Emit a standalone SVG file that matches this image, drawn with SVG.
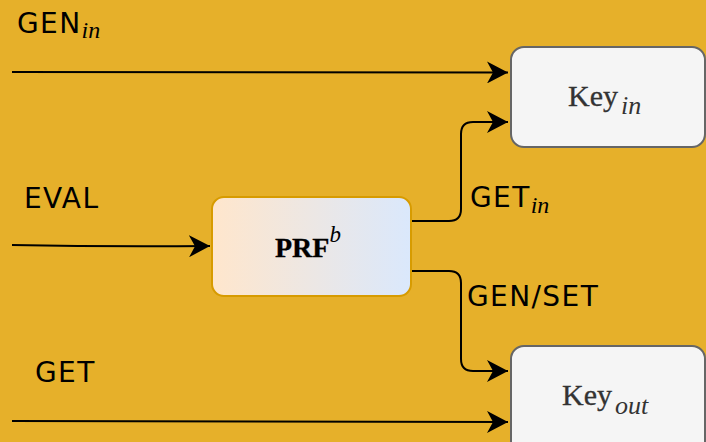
<svg xmlns="http://www.w3.org/2000/svg" width="706" height="442" viewBox="0 0 706 442">
<defs>
<linearGradient id="g" x1="0" y1="0" x2="1" y2="0"><stop offset="0" stop-color="#FFE6CC"/><stop offset="1" stop-color="#DAE8FC"/></linearGradient>
<marker id="a" markerWidth="22" markerHeight="22" viewBox="0 0 22 22" refX="21" refY="11" orient="auto" markerUnits="userSpaceOnUse"><path d="M0,0 L21,11 L0,22 L6,11 Z" fill="#000"/></marker>
</defs>
<style>
.lbl{font-family:"DejaVu Sans",sans-serif;font-size:28px;letter-spacing:1.4px;fill:#000}
.sub{font-family:"Liberation Serif",serif;font-style:italic;font-weight:normal;font-size:24px;letter-spacing:0;stroke:none}
.mono{font-family:"Liberation Serif",serif;font-size:30px;fill:#333;stroke:#333;stroke-width:0.3}
.c{fill:none;stroke:#000;stroke-width:2}
.key{fill:#F5F5F5;stroke:#666;stroke-width:2}
</style>
<rect width="706" height="442" fill="#E6B02A"/>
<g id="connectors">
<path class="c" d="M12,72 L508,72.5" marker-end="url(#a)"/>
<path class="c" d="M12,245 Q110,247 210,246" marker-end="url(#a)"/>
<path class="c" d="M12,421 L508,422" marker-end="url(#a)"/>
<path class="c" d="M411,221 L449,221 Q461,221 461,209 L461,134 Q461,122 473,122 L508,122" marker-end="url(#a)"/>
<path class="c" d="M411,271 L449,271 Q461,271 461,283 L461,359 Q461,371 473,371 L508,371" marker-end="url(#a)"/>
</g>
<g id="label-genin"><text class="lbl" x="17" y="33">GEN<tspan class="sub" dy="5">in</tspan></text></g>
<g id="label-eval"><text class="lbl" x="24" y="208">EVAL</text></g>
<g id="label-get"><text class="lbl" x="35" y="382">GET</text></g>
<g id="label-getin"><text class="lbl" x="470" y="207">GET<tspan class="sub" dy="6">in</tspan></text></g>
<g id="label-genset"><text class="lbl" x="467" y="306">GEN/SET</text></g>
<g id="node-prf">
<rect x="212" y="197" width="199" height="99" rx="12" fill="url(#g)" stroke="#D79B00" stroke-width="2"/>
<text class="mono" x="275" y="257" font-weight="bold" style="font-size:28px;fill:#000;stroke:#000;stroke-width:0.3">PRF<tspan class="sub" dy="-15" style="font-size:23px;fill:#000">b</tspan></text>
</g>
<g id="node-keyin">
<rect class="key" x="511" y="47" width="194" height="100" rx="13"/>
<text class="mono" x="568" y="106">Key<tspan class="sub" dy="8" dx="3" style="font-size:26px">in</tspan></text>
</g>
<g id="node-keyout">
<rect class="key" x="511" y="346" width="194" height="110" rx="13"/>
<text class="mono" x="562" y="405">Key<tspan class="sub" dy="9" dx="3" style="font-size:26px">out</tspan></text>
</g>
</svg>
